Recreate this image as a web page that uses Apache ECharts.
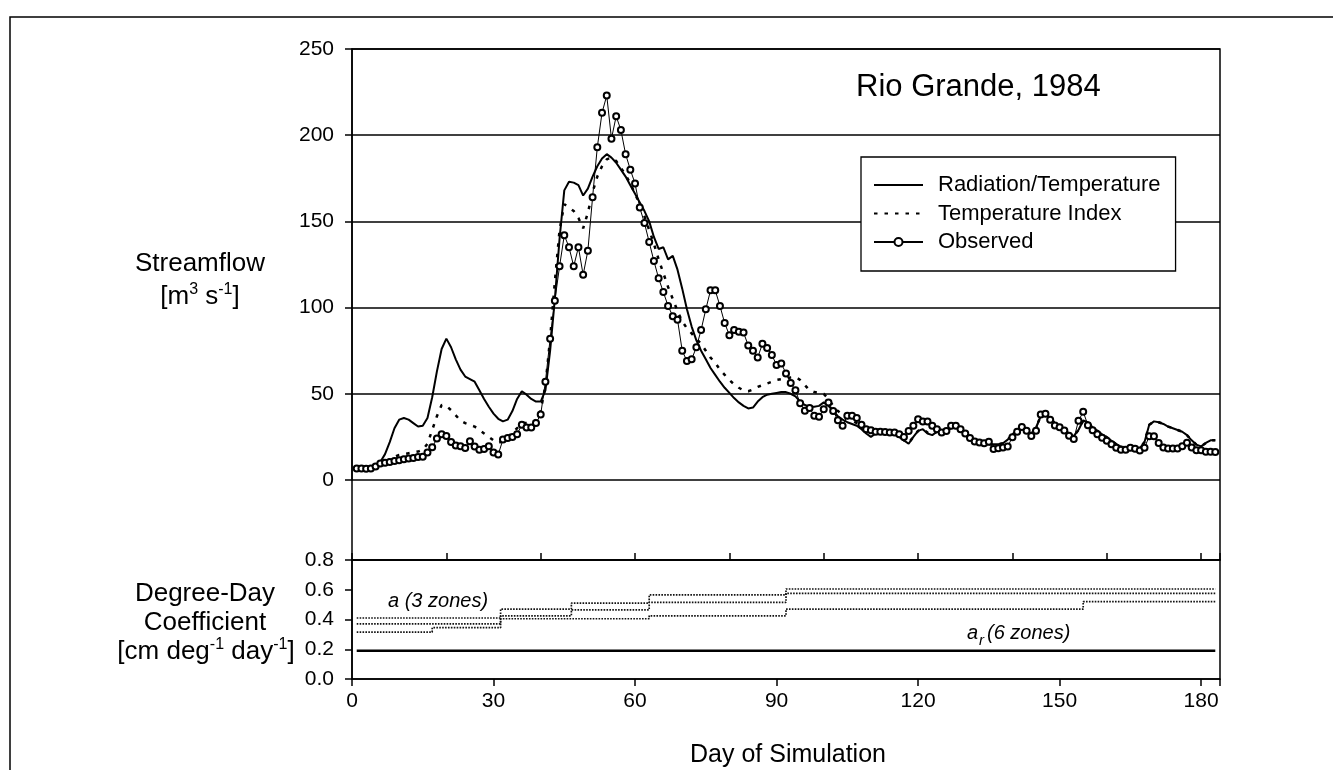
<!DOCTYPE html>
<html>
<head>
<meta charset="utf-8">
<title>Rio Grande, 1984</title>
<script src="https://cdn.jsdelivr.net/npm/echarts@6/dist/echarts.min.js"></script>
<style>
    html, body { margin: 0; padding: 0; background: #fff; }
    #chart { width: 1333px; height: 770px; }
</style>
</head>
<body>
<div id="chart"></div>
<script>
    // streamflow [m3 s-1], one value per day of simulation, day 1 .. 183
    const observed = [
        6.7, 6.7, 6.5, 6.7, 7.9, 9.5, 10, 10.5, 11, 11.4,
        12, 12.4, 12.7, 13.3, 13.5, 16, 19, 24, 26.6, 25.5,
        22, 20, 19.6, 18.6, 22.5, 19.5, 17.5, 18, 19.6, 16,
        14.8, 23.5, 24.3, 25, 26.6, 32, 30.4, 30.4, 33, 38,
        57, 82, 104, 124, 142, 135, 124, 135, 119, 133,
        164, 193, 213, 223, 198, 211, 203, 189, 180, 172,
        158, 149, 138, 127, 117, 109, 101, 95, 93, 75,
        69, 70, 77, 87, 99, 110, 110, 101, 91, 84,
        87, 86, 85.5, 78, 75, 71, 79, 76.5, 72.5, 66.7,
        67.6, 61.8, 56.3, 52, 44.5, 40.2, 41.8, 37.3, 36.7, 41,
        45, 40, 34.7, 31.4, 37.3, 37.3, 36, 32, 29.4, 28.8,
        28, 28, 27.8, 27.5, 27.5, 26.5, 25, 28.4, 31.4, 35.3,
        34, 34, 31.4, 29.4, 27.5, 28.4, 31.4, 31.4, 29.5, 27,
        24.4, 22.4, 21.7, 21.3, 22.2, 18, 18.4, 18.8, 19.5, 24.8,
        28, 30.8, 28.5, 25.5, 28.5, 38, 38.4, 35, 31.6, 30.6,
        28.7, 25.7, 23.8, 34.3, 39.6, 31.8, 28.9, 26.5, 24.5, 22.7,
        20.7, 18.7, 17.5, 17.5, 18.7, 18.1, 17.1, 18.7, 25.4, 25.4,
        21.5, 18.8, 18.2, 18.2, 18.2, 19.6, 21.6, 18.8, 17.2, 17.2,
        16.4, 16.4, 16.2
    ];
    const radTemp = [
        6.7, 6.7, 6.8, 7.5, 8.5, 10.5, 15, 22, 30, 35,
        36, 35, 33, 31, 31.5, 36, 48, 63, 76, 82,
        77, 70, 64, 60, 58.5, 57, 52, 47, 42.5, 38.5,
        35.5, 34, 35, 40, 47, 51.5, 49.5, 47, 45.5, 45.5,
        52, 75, 105, 140, 168, 173, 172.5, 171, 165, 169,
        176, 182, 186.5, 189, 187, 184, 180, 176, 171, 166,
        161, 156, 150, 141, 134, 135, 128, 130, 122, 111,
        99, 89, 81, 75, 70, 65, 61, 57, 53.5, 50.5,
        47.5, 45, 43, 41.5, 42, 45.5, 48, 49.5, 50, 50.5,
        51, 51, 50, 48.5, 45.5, 43.5, 42.5, 42.5, 43, 45,
        43, 40, 37, 35, 33.5, 32.5, 31.5, 29.5, 27, 25,
        27, 27.5, 27.5, 27, 26.5, 25, 23, 21, 25, 28.5,
        29.5, 27, 26, 28, 29, 28, 30, 31, 30, 27,
        24, 22, 21, 20.8, 20.8, 20.8, 20.8, 21.3, 23.4, 26.5,
        29, 30.5, 28.5, 27, 30.5, 37, 38.5, 36, 33, 31,
        29.5, 27, 25.5, 29, 34.5, 33.5, 30.5, 28.5, 26.5, 24.8,
        22.8, 20.8, 19.4, 18.9, 18.9, 18.9, 18.4, 22, 32, 34,
        33.5, 32.5, 31, 30, 29, 28, 26, 23, 20.5, 19.5,
        21.5, 23, 23
    ];
    const tempIndex = [
        6.7, 6.7, 6.7, 7, 7.8, 9, 10.5, 12, 13.5, 14.5,
        15, 15.5, 16, 16.5, 17.5, 21, 29, 37, 43.5, 43,
        40.5, 37.5, 34.5, 33, 32, 31, 29, 27, 25, 23,
        21.5, 22.5, 25, 27.5, 30, 33, 33, 33, 35, 40,
        55, 82, 115, 145, 160, 158, 156, 152, 146, 155,
        167, 176, 182, 186, 187, 185, 181, 177, 172, 166,
        160, 153, 145, 137, 128, 120, 112, 105, 98, 92,
        88, 85, 82, 79, 75, 71, 68, 64, 61, 58,
        55.5, 53.5, 52, 51.5, 52.5, 54, 55, 56, 57, 58,
        58.5, 59, 59.5, 59.8, 58, 55, 52, 51, 50.5, 50,
        47, 43, 40, 38, 36, 34.5, 33, 31, 29, 27.5,
        27, 27.5, 27.5, 27, 26.5, 25, 23, 21.5, 25, 28.5,
        29.5, 27.5, 26.5, 28, 29, 28, 30, 31, 30, 27,
        24, 22, 21, 20.8, 20.8, 20.8, 20.8, 21.3, 23.4, 26.5,
        29, 30.5, 28.5, 27, 30.5, 37, 38.5, 36, 33, 31,
        29.5, 27, 25.5, 29, 34.5, 33.5, 30.5, 28.5, 26.5, 24.8,
        22.8, 20.8, 19.4, 18.9, 18.9, 18.9, 18.4, 22, 32, 34,
        33.5, 32.5, 31, 30, 29, 28, 26, 23, 20.5, 19.5,
        21.5, 23, 23
    ];

    // degree-day coefficient [cm deg-1 day-1]: [day the value starts, value]
    const aZone1 = [[1, 0.41], [31.5, 0.47], [46.5, 0.51], [63, 0.565], [92, 0.605], [183, 0.605]];
    const aZone2 = [[1, 0.37], [31.5, 0.425], [46.5, 0.465], [63, 0.515], [92, 0.575], [183, 0.575]];
    const aZone3 = [[1, 0.315], [17, 0.345], [31.5, 0.405], [63, 0.425], [92, 0.47], [155, 0.52], [183, 0.52]];
    const arZones = [[1, 0.19], [183, 0.19]];

    const dayTicks = [0, 30, 60, 90, 120, 150, 180];
    const seriesNames = ['Radiation/Temperature', 'Temperature Index', 'Observed'];

    const FONT = '"Liberation Sans", Arial, Helvetica, sans-serif';
    const black = '#000';

    function byDay(values) {
        return values.map(function (v, i) { return [i + 1, v]; });
    }

    function text(str, x, y, extra) {
        let style = {
            text: str, fill: black, fontFamily: FONT, fontSize: 26,
            align: 'center', textAlign: 'center', verticalAlign: 'middle', textVerticalAlign: 'middle'
        };
        return {type: 'text', x: x, y: y, silent: true, style: Object.assign(style, extra || {})};
    }

    const sup = {fontSize: 16, fontFamily: FONT, verticalAlign: 'top', lineHeight: 30};
    const base = {fontSize: 26, fontFamily: FONT, lineHeight: 30};

    let chart = echarts.init(document.getElementById('chart'));

    let axisLine = {show: true, onZero: false, lineStyle: {color: black, width: 1.5}};
    let tickStyle = {color: black, width: 1.5};
    let zoneLine = {color: '#111', width: 1.7, type: [1.6, 1.3]};

    let option = {
        animation: false,
        backgroundColor: '#fff',
        textStyle: {fontFamily: FONT, color: black},
        grid: [
            {left: 352, right: 113, top: 49, height: 431, outerBoundsMode: 'none'},
            {left: 352, right: 113, top: 49, height: 511, show: true, borderColor: black, borderWidth: 1.5, outerBoundsMode: 'none'},
            {left: 352, right: 113, top: 560, height: 119, show: true, borderColor: black, borderWidth: 1.5, outerBoundsMode: 'none'}
        ],
        xAxis: [
            {gridIndex: 0, type: 'value', min: 0, max: 184, show: false},
            {
                gridIndex: 1, type: 'value', min: 0, max: 184, interval: 20,
                axisLine: axisLine,
                axisTick: {show: true, inside: true, length: 7, lineStyle: tickStyle},
                axisLabel: {show: false},
                splitLine: {show: false}
            },
            {
                gridIndex: 2, type: 'value', min: 0, max: 184, interval: 30,
                axisLine: axisLine,
                axisTick: {show: true, inside: false, length: 7, lineStyle: tickStyle},
                axisLabel: {
                    show: true, fontSize: 21, color: black, fontFamily: FONT, margin: 12,
                    formatter: function (v) { return dayTicks.indexOf(v) >= 0 ? String(v) : ''; }
                },
                splitLine: {show: false}
            }
        ],
        yAxis: [
            {
                gridIndex: 0, type: 'value', min: 0, max: 250, interval: 50,
                axisLine: axisLine,
                axisTick: {show: true, inside: false, length: 7, lineStyle: tickStyle},
                axisLabel: {fontSize: 21, color: black, fontFamily: FONT, margin: 18},
                splitLine: {show: true, lineStyle: {color: black, width: 1.5}}
            },
            {gridIndex: 1, type: 'value', min: 0, max: 1, show: false},
            {
                gridIndex: 2, type: 'value', min: 0, max: 0.8, interval: 0.2,
                axisLine: axisLine,
                axisTick: {show: true, inside: false, length: 7, lineStyle: tickStyle},
                axisLabel: {
                    fontSize: 21, color: black, fontFamily: FONT, margin: 18,
                    formatter: function (v) { return v.toFixed(1); }
                },
                splitLine: {show: false}
            }
        ],
        legend: {
            left: 861, top: 157, orient: 'vertical',
            padding: [17, 15, 18, 12],
            borderColor: black, borderWidth: 1.3,
            backgroundColor: '#fff',
            itemWidth: 49, itemHeight: 10, itemGap: 6.5,
            selectedMode: false,
            textStyle: {fontSize: 22, color: black, fontFamily: FONT, padding: [0, 0, 0, 10]},
            data: [
                {name: seriesNames[0], itemStyle: {opacity: 0}},
                {name: seriesNames[1], itemStyle: {opacity: 0}},
                {name: seriesNames[2]}
            ]
        },
        series: [
            {
                name: seriesNames[0], type: 'line', xAxisIndex: 0, yAxisIndex: 0,
                data: byDay(radTemp), symbol: 'none', silent: true, z: 3,
                itemStyle: {color: black},
                lineStyle: {color: black, width: 2}
            },
            {
                name: seriesNames[1], type: 'line', xAxisIndex: 0, yAxisIndex: 0,
                data: byDay(tempIndex), symbol: 'none', silent: true, z: 3,
                itemStyle: {color: black},
                lineStyle: {color: black, width: 2.5, type: [3.5, 7]}
            },
            {
                name: seriesNames[2], type: 'line', xAxisIndex: 0, yAxisIndex: 0,
                data: byDay(observed), symbol: 'emptyCircle', symbolSize: 6,
                showAllSymbol: true, silent: true, z: 4,
                itemStyle: {color: black, borderWidth: 1.2},
                lineStyle: {color: black, width: 1}
            },
            {type: 'line', xAxisIndex: 2, yAxisIndex: 2, data: aZone1, step: 'end', symbol: 'none', silent: true, lineStyle: zoneLine},
            {type: 'line', xAxisIndex: 2, yAxisIndex: 2, data: aZone2, step: 'end', symbol: 'none', silent: true, lineStyle: zoneLine},
            {type: 'line', xAxisIndex: 2, yAxisIndex: 2, data: aZone3, step: 'end', symbol: 'none', silent: true, lineStyle: zoneLine},
            {
                type: 'line', xAxisIndex: 2, yAxisIndex: 2, data: arZones,
                symbol: 'none', silent: true, lineStyle: {color: black, width: 2.5}
            }
        ],
        graphic: [
            {
                type: 'polyline', silent: true,
                shape: {points: [[10, 770], [10, 17], [1333, 17]]},
                style: {stroke: black, lineWidth: 1.5, fill: 'none'}
            },
            text('Rio Grande, 1984', 856, 87, {fontSize: 31, align: 'left', textAlign: 'left'}),
            text('Streamflow', 200, 264),
            text('{b|[m}{s|3}{b| s}{s|-1}{b|]}', 200, 297, {rich: {b: base, s: sup}}),
            text('Degree-Day', 205, 594),
            text('Coefficient', 205, 623),
            text('{b|[cm deg}{s|-1}{b| day}{s|-1}{b|]}', 206, 652, {rich: {b: base, s: sup}}),
            text('Day of Simulation', 788, 755, {fontSize: 25}),
            text('a (3 zones)', 388, 601, {fontSize: 20, fontStyle: 'italic', align: 'left', textAlign: 'left'}),
            text('a', 967, 633, {fontSize: 20, fontStyle: 'italic', align: 'left', textAlign: 'left'}),
            text('r', 979, 641, {fontSize: 15, fontStyle: 'italic', align: 'left', textAlign: 'left'}),
            text('(6 zones)', 987, 633, {fontSize: 20, fontStyle: 'italic', align: 'left', textAlign: 'left'})
        ]
    };
    chart.setOption(option);
</script>
</body>
</html>
